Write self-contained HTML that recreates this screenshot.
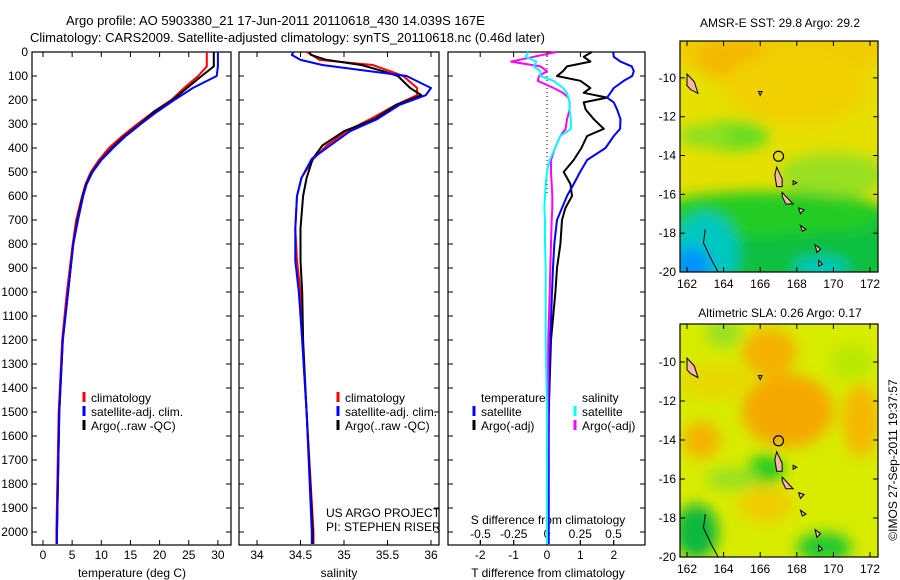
<!DOCTYPE html>
<html><head><meta charset="utf-8"><style>
html,body{margin:0;padding:0;background:#fff;}
svg{display:block;font-family:"Liberation Sans",sans-serif;}
</style></head><body>
<svg id="c" width="900" height="580" viewBox="0 0 900 580" xmlns="http://www.w3.org/2000/svg">
<defs>
<filter id="bl" x="-50%" y="-50%" width="200%" height="200%"><feGaussianBlur stdDeviation="7"/></filter>
<clipPath id="m1c"><rect x="680" y="41" width="198" height="231"/></clipPath>
<clipPath id="m2c"><rect x="680" y="324" width="198" height="233"/></clipPath>
</defs>
<text x="66" y="25" font-size="13">Argo profile: AO 5903380_21 17-Jun-2011 20110618_430 14.039S 167E</text>
<text x="30" y="42" font-size="13">Climatology: CARS2009. Satellite-adjusted climatology: synTS_20110618.nc (0.46d later)</text>
<g id="g"></g>
</svg>
<script>
// ---- data ----
const depthT = [0,60,100,150,200,250,300,350,400,450,500,550,600,700,800,1000,1200,1500,2000,2050];
const tempClim = [28.1,28.1,26.6,24.2,22.0,18.9,16.2,13.6,11.3,9.6,8.2,7.3,6.7,5.7,5.1,4.1,3.3,2.7,2.3,2.3];
const tempSat  = [30.0,30.0,29.8,25.7,22.5,19.5,16.8,14.2,12.0,10.0,8.5,7.5,6.9,6.0,5.2,4.3,3.4,2.8,2.4,2.4];
const tempArgo = [29.3,29.3,27.2,24.7,22.2,19.0,16.6,14.0,11.8,9.9,8.4,7.4,6.8,5.9,5.2,4.3,3.4,2.8,2.4,2.4];
const depthS = [0,12,33,54,80,100,150,180,220,280,330,390,445,525,600,735,870,1000,1200,1500,2000,2050];
const salClim = [34.57,34.63,34.72,35.33,35.53,35.68,35.84,35.84,35.6,35.3,35.03,34.8,34.65,34.51,34.46,34.44,34.46,34.5,34.52,34.57,34.65,34.65];
const salSat  = [34.42,34.40,34.5,34.75,35.3,35.72,36.0,35.94,35.64,35.38,35.07,34.84,34.63,34.51,34.46,34.44,34.44,34.48,34.52,34.57,34.63,34.63];
const salArgo = [34.6,34.62,34.8,35.2,35.45,35.62,35.76,35.89,35.6,35.35,35.0,34.75,34.64,34.57,34.53,34.5,34.5,34.52,34.53,34.57,34.64,34.64];
const depthD = [0,20,40,60,80,100,120,150,170,190,210,240,280,320,350,400,450,500,550,600,650,700,800,900,1000,1200,1500,2000,2050];
const tdSat  = [1.98,2.0,2.2,2.54,2.6,2.55,2.3,2.0,1.9,1.8,2.0,2.1,2.2,2.19,2.0,1.75,1.2,0.99,0.8,0.6,0.45,0.3,0.22,0.18,0.15,0.1,0.05,0.05,0.05];
const tdArgo = [1.34,1.1,1.3,0.6,0.48,0.3,1.0,1.3,1.1,1.8,1.1,1.16,1.4,1.7,1.2,1.03,0.8,0.5,0.7,0.75,0.55,0.45,0.4,0.3,0.25,0.12,0.05,0.02,0.02];
const sdSat  = [-0.14,-0.16,-0.08,-0.1,-0.05,-0.05,0.05,0.12,0.15,0.16,0.17,0.17,0.18,0.18,0.1,0.06,0.02,0.0,-0.01,-0.015,-0.02,-0.015,-0.015,-0.01,-0.01,-0.01,0.0,0.0,0.0];
const sdArgo = [0.07,-0.1,-0.27,-0.05,0.0,-0.06,-0.07,0.05,0.12,0.16,0.17,0.17,0.15,0.14,0.1,0.06,0.03,0.03,0.035,0.04,0.04,0.035,0.03,0.025,0.02,0.01,0.005,0.0,0.0];
const depthTicks = [0,100,200,300,400,500,600,700,800,900,1000,1100,1200,1300,1400,1500,1600,1700,1800,1900,2000];
const tempTicks = [0,5,10,15,20,25,30];
const salTicks = [34,34.5,35,35.5,36];
const tdTicks = [-2,-1,0,1,2];
const sdTicks = [-0.5,-0.25,0,0.25,0.5];
const sdTickLabels = ['-0.5','-0.25','0','0.25','0.5'];
const lonTicks = [162,164,166,168,170,172];
const latTicks = [-10,-12,-14,-16,-18,-20];

const NS='http://www.w3.org/2000/svg';
const G=document.getElementById('g');
function mk(tag,attrs,parent){const e=document.createElementNS(NS,tag);for(const k in attrs)e.setAttribute(k,attrs[k]);(parent||G).appendChild(e);return e;}
function txt(x,y,s,size,anchor,parent){const t=mk('text',{x:x,y:y,'font-size':size||12,'text-anchor':anchor||'start'},parent);t.textContent=s;return t;}

const yD = d => 52 + d*0.24;
const yTop=52, yBot=545;

function panel(x0,x1,name){
  const r=mk('rect',{x:x0,y:yTop,width:x1-x0,height:yBot-yTop,fill:'none',stroke:'#000','stroke-width':1.2});
  
  
}
function line(xs,ds,xf,color,w,name){
  let p='';for(let i=0;i<xs.length;i++){p+=(i?'L':'M')+xf(xs[i]).toFixed(1)+','+yD(ds[i]).toFixed(1);}
  const e=mk('path',{d:p,fill:'none',stroke:color,'stroke-width':w,'stroke-linejoin':'round'});
  
  
}
function xticks(vals,labels,xf,name){
  vals.forEach((v,i)=>{
    mk('line',{x1:xf(v),x2:xf(v),y1:yBot,y2:yBot-5,stroke:'#000'});
    mk('line',{x1:xf(v),x2:xf(v),y1:yTop,y2:yTop+5,stroke:'#000'});
    const t=txt(xf(v),yBot+14,labels[i],12,'middle');
    
    
  });
}
function yticks(x0,x1,label){
  depthTicks.forEach(d=>{
    mk('line',{x1:x0,x2:x0+5,y1:yD(d),y2:yD(d),stroke:'#000'});
    mk('line',{x1:x1,x2:x1-5,y1:yD(d),y2:yD(d),stroke:'#000'});
    if(label){const t=txt(x0-4,yD(d)+4,String(d),12,'end');
      
      }
  });
}
function legend(x,y,color,s){
  mk('line',{x1:x,x2:x,y1:y-10,y2:y,stroke:color,'stroke-width':3});
  const t=txt(x+7,y,s,12);
  
  
}

// Panel 1 temperature
const xT=v=>43+v*5.83;
panel(32,231,'temperature-panel');
yticks(32,231,true);
xticks(tempTicks,tempTicks.map(String),xT,'temperature');
line(tempClim,depthT,xT,'#f00',2,'temperature-climatology-line');
line(tempArgo,depthT,xT,'#000',2,'temperature-argo-line');
line(tempSat,depthT,xT,'#00f',2,'temperature-satellite-line');
{const t=txt(132,577,'temperature (deg C)',12,'middle');}
legend(84,402,'#f00','climatology');legend(84,416,'#00f','satellite-adj. clim.');legend(84,430,'#000','Argo(..raw -QC)');

// Panel 2 salinity
const xS=v=>257+(v-34)*87;
panel(239,439,'salinity-panel');
yticks(239,439,false);
xticks(salTicks,salTicks.map(String),xS,'salinity');
line(salClim,depthS,xS,'#f00',2,'salinity-climatology-line');
line(salArgo,depthS,xS,'#000',2,'salinity-argo-line');
line(salSat,depthS,xS,'#00f',2,'salinity-satellite-line');
{const t=txt(339,577,'salinity',12,'middle');}
legend(338,402,'#f00','climatology');legend(338,416,'#00f','satellite-adj. clim.');legend(338,430,'#000','Argo(..raw -QC)');
{const t=txt(326,517,'US ARGO PROJECT',12);
 const u=txt(326,531,'PI: STEPHEN RISER',12);}

// Panel 3 differences
const xTd=v=>547+v*33.4;
const xSd=v=>547+v*133;
panel(448,645,'difference-panel');
yticks(448,645,false);
xticks(tdTicks,tdTicks.map(String),xTd,'t-difference');
sdTicks.forEach((v,i)=>{mk('line',{x1:xSd(v),x2:xSd(v),y1:540,y2:544,stroke:'#000'});
  const t=txt(xSd(v),538,sdTickLabels[i],12,'middle');});
{const t=txt(548,524,'S difference from climatology',12,'middle');
 const u=txt(548,577,'T difference from climatology',12,'middle');}
// zero dotted line
mk('line',{x1:547,x2:547,y1:yD(0),y2:yD(600),stroke:'#000','stroke-dasharray':'1,3'});
line(tdArgo,depthD,xTd,'#000',2,'t-diff-argo-line');
line(tdSat,depthD,xTd,'#00f',2,'t-diff-satellite-line');
line(sdArgo,depthD,xSd,'#f0f',2,'s-diff-argo-line');
line(sdSat,depthD,xSd,'#0ff',2,'s-diff-satellite-line');
{const t=txt(481,402,'temperature',12);
 const u=txt(582,402,'salinity',12);}
legend(474,416,'#00f','satellite');legend(474,430,'#000','Argo(-adj)');
legend(575,416,'#0ff','satellite');legend(575,430,'#f0f','Argo(-adj)');

// Maps
const land=[
 [[162,-9.8],[162.4,-10.2],[162.6,-10.8],[162.2,-10.6],[162,-10.4]],
 [[166.9,-14.6],[167.2,-15.2],[167.2,-15.6],[166.9,-15.6],[166.8,-15.0]],
 [[167.2,-15.9],[167.6,-16.3],[167.8,-16.5],[167.4,-16.5],[167.2,-16.1]],
 [[168.1,-16.7],[168.4,-16.8],[168.2,-17.0]],
 [[168.2,-17.6],[168.5,-17.8],[168.3,-17.9]],
 [[169.0,-18.6],[169.3,-18.8],[169.1,-19.0]],
 [[169.2,-19.4],[169.4,-19.6],[169.2,-19.7]],
 [[167.8,-15.3],[168.0,-15.4],[167.8,-15.5]],
 [[165.9,-10.7],[166.1,-10.7],[166.0,-10.9]]
];
function map(y0,h,latTop,clip,name,blobs,base){
  const x0=680,w=198;
  const lx=v=>687+(v-162)*18.3;
  const ly=v=>y0+(latTop-v)*(h/(latTop+20));
  const g=mk('g',{'clip-path':'url(#'+clip+')'});
  
  
  mk('rect',{x:x0,y:y0,width:w,height:h,fill:base},g);
  const bg=mk('g',{filter:'url(#bl)'},g);
  blobs.forEach(b=>mk('ellipse',{cx:lx(b[0]),cy:ly(b[1]),rx:b[2]*18.3,ry:b[3]*18.3,fill:b[4]},bg));
  land.forEach(p=>{mk('polygon',{points:p.map(q=>lx(q[0])+','+ly(q[1])).join(' '),fill:'#f5b8a0',stroke:'#000','stroke-width':1},g);});
  mk('path',{d:'M'+lx(163)+','+ly(-17.8)+' L'+lx(162.9)+','+ly(-18.5)+' L'+lx(163.3)+','+ly(-19.3)+' L'+lx(163.7)+','+ly(-20)},g).setAttribute('style','fill:none;stroke:#000');
  const c=mk('circle',{cx:lx(167),cy:ly(-14.039),r:5,fill:'none',stroke:'#000','stroke-width':1.2},g);
  
  
  mk('rect',{x:x0,y:y0,width:w,height:h,fill:'none',stroke:'#000','stroke-width':1.2});
  lonTicks.forEach(v=>{mk('line',{x1:lx(v),x2:lx(v),y1:y0+h,y2:y0+h-5,stroke:'#000'});mk('line',{x1:lx(v),x2:lx(v),y1:y0,y2:y0+5,stroke:'#000'});
    const t=txt(lx(v),y0+h+16,String(v),12,'middle');});
  latTicks.forEach(v=>{mk('line',{x1:x0,x2:x0+5,y1:ly(v),y2:ly(v),stroke:'#000'});mk('line',{x1:x0+w,x2:x0+w-5,y1:ly(v),y2:ly(v),stroke:'#000'});
    const t=txt(676,ly(v)+4,String(v),12,'end');});
}
map(41,231,-8.1,'m1c','sst',[
 [167,-8.5,6,1.8,'#f0cc00'],[164.5,-9,2,1.2,'#f5b800'],[168,-10.5,4,2,'#f0d000'],
 [164.5,-13,2,0.8,'#66dd22'],[163,-13,1.5,0.6,'#88e022'],[170,-15,3,1.2,'#99e022'],
 [167,-18.5,8,2.8,'#10c040'],[166,-17,6,1.2,'#22cc22'],[170.5,-17,2,1,'#22cc22'],
 [163,-19,1.8,2.2,'#00c8c0'],[162.3,-19.7,1,1,'#0090ff'],[169.3,-19.8,1.5,0.6,'#00c8c0']
],'#e6e000');
map(324,233,-8.05,'m2c','sla',[
 [167.5,-12.5,2.5,2,'#f5a800'],[166.5,-9.5,1.5,1.3,'#f5b000'],[162.8,-14,1,1,'#f5b000'],[171.5,-13,1,2,'#f5b800'],
 [163.5,-11,2,1,'#e8d800'],[166.3,-17.3,1.5,1,'#f0cc00'],
 [166.3,-15.5,1,0.8,'#22cc22'],[162.5,-18.7,1.2,1.5,'#10b840'],[169.5,-19.5,1.5,0.8,'#22c830'],[164.5,-16,1.5,0.6,'#99e022'],
 [171,-10,1.2,1,'#b8e800'],[164,-8.5,1,0.8,'#99e022']
],'#d8ec00');
{const t=txt(780,27,'AMSR-E SST: 29.8 Argo: 29.2',12,'middle');
 const u=txt(780,317,'Altimetric SLA: 0.26 Argo: 0.17',12,'middle');
 const v=txt(0,0,'©IMOS 27-Sep-2011 19:37:57',12,'middle');v.setAttribute('transform','translate(897,460) rotate(-90)');}
</script>
</body></html>
